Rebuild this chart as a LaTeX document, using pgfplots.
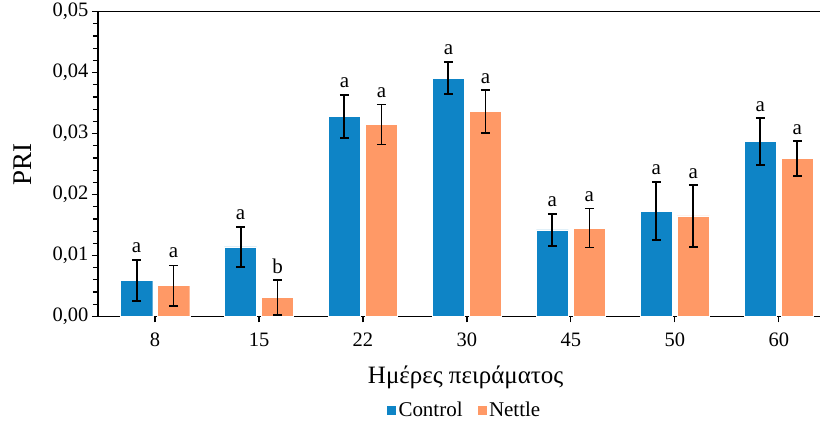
\documentclass[border=0pt]{standalone}
\usepackage{pgfplots}
\usepackage{pgfplotstable}
\pgfplotsset{compat=1.18}
\usepackage{fontspec}
\setmainfont{Liberation Serif}
\definecolor{cblue}{RGB}{14,132,198}
\definecolor{corange}{RGB}{255,153,102}
\pgfplotstableread{
x y e
0 0.00593 0.0034
1 0.0114 0.0033
2 0.0328 0.0036
3 0.0391 0.0026
4 0.0142 0.0026
5 0.0173 0.0048
6 0.0287 0.0038
}\control
\pgfplotstableread{
x y e
0 0.00505 0.0033
1 0.0031 0.0029
2 0.0315 0.0033
3 0.0336 0.0035
4 0.0145 0.0032
5 0.0165 0.0051
6 0.0259 0.0029
}\nettle
\begin{document}
\begin{tikzpicture}
\begin{axis}[
 name=ax,
 scale only axis, width=723pt, height=305pt,
 xmin=-0.55, xmax=6.4, ymin=0, ymax=0.05,
 axis x line=box, axis y line=left,
 axis line style={-, line width=1.3pt, black},
 xtick={0,1,2,3,4,5,6}, xticklabels={8,15,22,30,45,50,60},
 xtick pos=bottom, ytick pos=left,
 ytick={0,0.01,0.02,0.03,0.04,0.05},
 minor y tick num=4,
 tick align=outside,
 major tick length=6pt, minor tick length=5pt,
 tick style={line width=1.2pt, black},
 scaled y ticks=false,
 yticklabel style={/pgf/number format/.cd, fixed, fixed zerofill, precision=2, use comma, assume math mode=true},
 xticklabel style={/pgf/number format/assume math mode=true, yshift=-7pt},
 ticklabel style={font=\fontsize{20.5}{24}\selectfont},
 xlabel={Ημέρες πειράματος},
 xlabel style={font=\fontsize{25}{30}\selectfont, at={(axis description cs:0.509,-0.2)}, anchor=center},
 ylabel={PRI},
 ylabel style={font=\fontsize{27}{32}\selectfont, at={(axis description cs:-0.104,0.5)}, anchor=center},
 legend style={at={(0.507,-0.308)}, anchor=center, draw=none, legend columns=2, font=\fontsize{21}{25}\selectfont, /tikz/every even column/.append style={column sep=12pt}},
 legend cell align=left,
 legend image code/.code={\fill[#1] (0pt,-5pt) rectangle (10pt,5pt);},
 clip=false,
]
\addplot[ybar, bar width=0.31, bar shift=-0.178, fill=cblue, draw=white, line width=0.4pt]
 table[x=x, y=y] {\control};
\addlegendentry{Control}
\addplot[ybar, bar width=0.31, bar shift=0.178, fill=corange, draw=white, line width=0.4pt]
 table[x=x, y=y] {\nettle};
\addlegendentry{Nettle}
% error bars at the bar centres
\addplot[draw=none, mark=none, forget plot,
  error bars/.cd, y dir=both, y explicit,
  error bar style={line width=2pt, black},
  error mark options={rotate=90, mark size=4.5pt, line width=2pt, black}]
 table[x expr=\thisrow{x}-0.178, y=y, y error=e] {\control};
\addplot[draw=none, mark=none, forget plot,
  error bars/.cd, y dir=both, y explicit,
  error bar style={line width=1.7pt, black},
  error mark options={rotate=90, mark size=4.5pt, line width=1.7pt, black}]
 table[x expr=\thisrow{x}+0.178, y=y, y error=e] {\nettle};
\addplot[draw=none, mark=none, forget plot, nodes near coords, point meta=explicit symbolic,
  nodes near coords style={font=\fontsize{21}{25}\selectfont, anchor=south, yshift=3pt}]
 table[x=x, y=y, meta=l] {
x y l
-0.178 0.0094 a
0.178 0.0085 a
0.822 0.0148 a
1.178 0.0060 b
1.822 0.0365 a
2.178 0.0349 a
2.822 0.0418 a
3.178 0.0371 a
3.822 0.0169 a
4.178 0.0178 a
4.822 0.0222 a
5.178 0.0215 a
5.822 0.0326 a
6.178 0.0288 a
};
\end{axis}
\path ([shift={(-98pt,-118pt)}]ax.south west) ([shift={(0pt,11pt)}]ax.north east);
\end{tikzpicture}
\end{document}
